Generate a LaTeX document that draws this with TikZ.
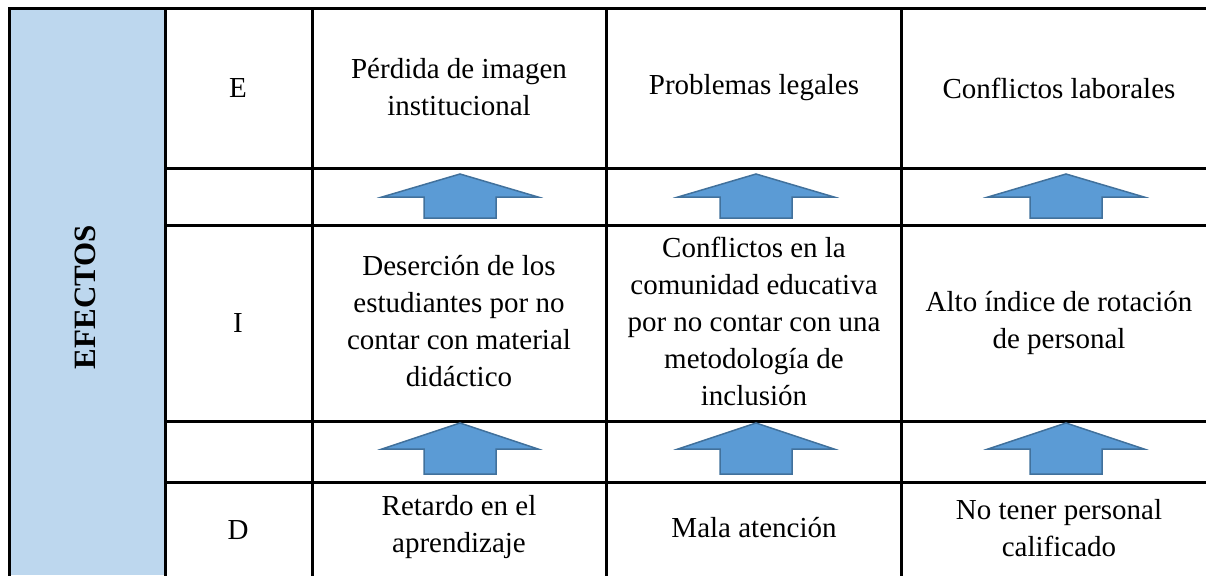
\documentclass[tikz,border=0pt]{standalone}
\usepackage{fontspec}
\setmainfont{Liberation Serif}
\definecolor{efectosazul}{HTML}{BDD7EE}
\definecolor{flechaazul}{HTML}{5B9BD5}
\definecolor{flechaborde}{HTML}{41719C}

\begin{document}
\begin{tikzpicture}[x=1pt, y=-1pt,
    celda/.style={align=center, font=\fontsize{29}{37}\selectfont, inner sep=0pt},
    flecha/.style={fill=flechaazul, draw=flechaborde, line width=1.5pt, line join=miter},
    regla/.style={line width=3pt, line cap=rect}]
  \useasboundingbox (0,0) rectangle (1206,575);
  \fill[efectosazul] (9,9) rectangle (165,575);

  % rejilla de la tabla
  \draw[regla] (9,575) -- (9,9) -- (1206,9);
  \foreach \x in {165,312,606,901}
    \draw[regla] (\x,9) -- (\x,575);
  \foreach \y in {168,225,421,482}
    \draw[regla] (165,\y) -- (1206,\y);

  % flechas
  \foreach \cx in {460,756,1066} {
    \draw[flecha] (\cx,174) -- (\cx+78,197) -- (\cx+36,197) -- (\cx+36,218)
      -- (\cx-36,218) -- (\cx-36,197) -- (\cx-78,197) -- cycle;
    \draw[flecha] (\cx,423) -- (\cx+78,449) -- (\cx+36,449) -- (\cx+36,474)
      -- (\cx-36,474) -- (\cx-36,449) -- (\cx-78,449) -- cycle;
  }

  \node[celda, font=\fontsize{31}{36}\selectfont\bfseries, rotate=90] (efectos) at (85,297) {EFECTOS};

  \node[celda] (e) at (238,88) {E};
  \node[celda] (i) at (238,323) {I};
  \node[celda] (d) at (238,530) {D};

  \node[celda] (e1) at (459,87) {Pérdida de imagen\\institucional};
  \node[celda] (e2) at (754,88) {Problemas legales};
  \node[celda] (e3) at (1059,88) {Conflictos laborales};

  \node[celda] (i1) at (459,321) {Deserción de los\\estudiantes por no\\contar con material\\didáctico};
  \node[celda] (i2) at (754,321) {Conflictos en la\\comunidad educativa\\por no contar con una\\metodología de\\inclusión};
  \node[celda] (i3) at (1059,323) {Alto índice de rotación\\de personal};

  \node[celda] (d1) at (459,527) {Retardo en el\\aprendizaje};
  \node[celda] (d2) at (754,528) {Mala atención};
  \node[celda] (d3) at (1059,528) {No tener personal\\calificado};
\end{tikzpicture}
\end{document}
